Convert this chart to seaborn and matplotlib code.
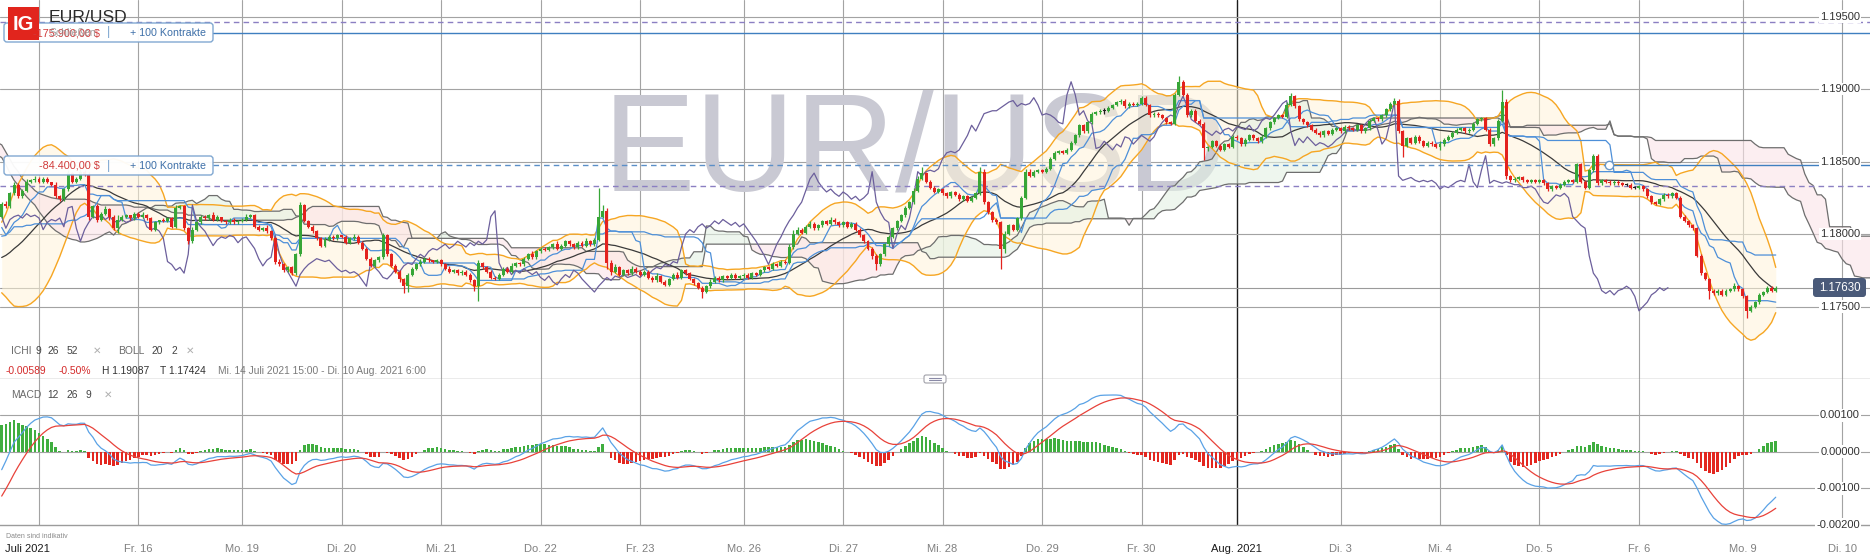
import numpy as np
import pandas as pd
import matplotlib
matplotlib.use("Agg")
import matplotlib.pyplot as plt
import matplotlib.transforms as mtransforms
from matplotlib.patches import FancyBboxPatch, Rectangle
import seaborn as sns

sns.set_theme(style="white")
plt.rcParams['font.family'] = ['Liberation Sans', 'DejaVu Sans']

# ---------------- data (prices in 1e-4 units: 1834 -> 1.1834) ----------------
first_open_pips = 1812
close_pips = [
    1821, 1819, 1828, 1834, 1826, 1830, 1836, 1837, 1838, 1836,
    1838, 1836, 1834, 1826, 1824, 1831, 1842, 1836, 1838, 1843,
    1841, 1812, 1819, 1810, 1814, 1817, 1812, 1804, 1810, 1812,
    1813, 1811, 1814, 1812, 1813, 1811, 1803, 1808, 1810, 1809,
    1811, 1805, 1818, 1819, 1804, 1795, 1803, 1808, 1812, 1811,
    1813, 1810, 1812, 1809, 1808, 1810, 1808, 1809, 1810, 1812,
    1813, 1805, 1803, 1804, 1802, 1797, 1781, 1779, 1775, 1777,
    1773, 1786, 1820, 1809, 1805, 1802, 1797, 1792, 1796, 1798,
    1797, 1799, 1798, 1794, 1797, 1798, 1794, 1790, 1783, 1778,
    1782, 1784, 1799, 1786, 1778, 1774, 1769, 1764, 1772, 1776,
    1779, 1781, 1783, 1782, 1781, 1782, 1779, 1776, 1774, 1775,
    1773, 1774, 1772, 1768, 1764, 1780, 1777, 1774, 1770, 1769,
    1772, 1776, 1774, 1778, 1780, 1779, 1783, 1786, 1784, 1788,
    1790, 1789, 1791, 1793, 1790, 1792, 1795, 1793, 1791, 1794,
    1792, 1795, 1793, 1796, 1812, 1816, 1780, 1774, 1777, 1772,
    1775, 1773, 1776, 1774, 1772, 1774, 1770, 1768, 1771, 1767,
    1765, 1769, 1772, 1770, 1775, 1773, 1769, 1766, 1763, 1760,
    1764, 1767, 1770, 1768, 1771, 1770, 1772, 1770, 1771, 1772,
    1770, 1773, 1772, 1775, 1777, 1776, 1779, 1778, 1781, 1780,
    1791, 1800, 1803, 1801, 1805, 1807, 1804, 1806, 1809, 1807,
    1810, 1808, 1806, 1808, 1805, 1807, 1803, 1799, 1795, 1790,
    1785, 1779, 1786, 1793, 1798, 1804, 1809, 1813, 1818, 1822,
    1830, 1838, 1842, 1836, 1832, 1829, 1831, 1828, 1826, 1829,
    1827, 1824, 1826, 1823, 1825, 1828, 1843, 1822, 1815, 1810,
    1808, 1790, 1800, 1806, 1803, 1811, 1825, 1843, 1840, 1843,
    1844, 1843, 1845, 1852, 1856, 1857, 1856, 1858, 1863, 1868,
    1875, 1871, 1877, 1883, 1884, 1885, 1885, 1887, 1889, 1891,
    1892, 1888, 1890, 1889, 1890, 1894, 1889, 1882, 1883, 1882,
    1880, 1877, 1876, 1896, 1905, 1896, 1882, 1885, 1878, 1876,
    1859, 1860, 1864, 1861, 1858, 1862, 1860, 1867, 1866, 1862,
    1865, 1868, 1866, 1864, 1867, 1873, 1877, 1880, 1882, 1881,
    1889, 1895, 1888, 1879, 1877, 1875, 1872, 1870, 1868, 1871,
    1869, 1872, 1873, 1871, 1874, 1873, 1872, 1875, 1871, 1873,
    1878, 1880, 1879, 1882, 1886, 1890, 1892, 1871, 1861, 1866,
    1863, 1867, 1864, 1861, 1863, 1862, 1860, 1862, 1865, 1867,
    1870, 1872, 1873, 1871, 1872, 1876, 1879, 1880, 1872, 1862,
    1866, 1878, 1891, 1840, 1837, 1838, 1839, 1837, 1836, 1837,
    1836, 1837, 1835, 1831, 1833, 1832, 1834, 1836, 1837, 1836,
    1848, 1836, 1832, 1844, 1854, 1835, 1837, 1836, 1835, 1836,
    1835, 1834, 1834, 1832, 1832, 1833, 1831, 1826, 1822, 1821,
    1824, 1827, 1826, 1828, 1825, 1812, 1809, 1806, 1804, 1785,
    1773, 1769, 1761, 1759, 1761, 1758, 1761, 1762, 1764, 1762,
    1757, 1747, 1750, 1753, 1758, 1760, 1763, 1761, 1763,
]
upper_wick_pips = [
    1, 2, 1, 2, 1, 1, 2, 1, 2, 1,
    1, 1, 0, 2, 1, 1, 2, 1, 1, 2,
    1, 2, 1, 2, 1, 2, 1, 1, 3, 1,
    1, 0, 1, 1, 2, 1, 1, 1, 0, 1,
    1, 1, 2, 1, 1, 1, 2, 1, 1, 1,
    1, 2, 1, 0, 1, 1, 1, 1, 1, 2,
    1, 1, 1, 1, 2, 1, 1, 2, 1, 1,
    1, 1, 2, 1, 1, 1, 1, 1, 2, 1,
    1, 1, 0, 1, 1, 2, 1, 1, 1, 1,
    1, 1, 2, 1, 1, 1, 1, 1, 1, 1,
    1, 2, 1, 1, 0, 1, 1, 1, 2, 1,
    1, 1, 1, 1, 1, 2, 1, 1, 1, 1,
    1, 1, 1, 2, 1, 1, 1, 1, 2, 1,
    1, 1, 1, 1, 2, 1, 1, 1, 1, 1,
    1, 2, 1, 1, 20, 4, 2, 2, 2, 1,
    1, 1, 2, 1, 1, 1, 1, 1, 2, 1,
    1, 1, 1, 2, 1, 1, 1, 1, 1, 1,
    1, 2, 1, 1, 1, 1, 1, 1, 1, 1,
    1, 1, 1, 1, 1, 1, 2, 1, 1, 1,
    2, 3, 2, 1, 1, 2, 1, 1, 1, 1,
    2, 1, 1, 1, 1, 1, 1, 1, 1, 1,
    1, 1, 1, 1, 1, 1, 1, 1, 1, 1,
    2, 2, 4, 1, 1, 1, 1, 1, 1, 1,
    1, 1, 1, 1, 1, 1, 3, 2, 1, 1,
    1, 1, 2, 1, 1, 1, 1, 2, 2, 1,
    1, 1, 1, 1, 1, 1, 1, 1, 1, 1,
    1, 1, 1, 1, 1, 1, 2, 1, 1, 1,
    1, 1, 1, 1, 1, 1, 1, 1, 1, 1,
    1, 1, 1, 1, 4, 1, 1, 1, 1, 1,
    1, 1, 1, 1, 1, 1, 1, 1, 1, 1,
    1, 1, 1, 1, 1, 1, 1, 1, 1, 1,
    2, 2, 1, 1, 1, 1, 1, 1, 1, 1,
    1, 1, 1, 1, 1, 1, 1, 1, 1, 1,
    1, 1, 1, 1, 1, 1, 2, 1, 1, 1,
    1, 1, 1, 1, 1, 1, 1, 2, 1, 1,
    1, 1, 1, 1, 1, 1, 1, 1, 1, 1,
    1, 1, 8, 2, 1, 1, 1, 1, 1, 1,
    1, 1, 1, 1, 1, 1, 1, 1, 1, 1,
    1, 1, 1, 1, 1, 1, 1, 1, 1, 1,
    1, 1, 1, 1, 1, 1, 1, 1, 1, 1,
    1, 1, 1, 1, 1, 1, 1, 1, 1, 1,
    1, 1, 1, 1, 1, 1, 1, 1, 2, 1,
    1, 1, 1, 1, 1, 1, 1, 1, 1,
]
lower_wick_pips = [
    1, 1, 1, 1, 1, 1, 1, 1, 1, 1,
    1, 1, 1, 1, 1, 1, 1, 1, 1, 1,
    1, 2, 1, 2, 1, 1, 2, 1, 3, 1,
    1, 1, 1, 1, 1, 1, 1, 1, 1, 1,
    1, 1, 1, 1, 1, 2, 1, 1, 1, 1,
    1, 1, 1, 1, 1, 1, 1, 1, 1, 1,
    1, 1, 1, 1, 1, 1, 2, 1, 1, 1,
    1, 1, 1, 1, 1, 1, 1, 1, 1, 1,
    1, 1, 1, 1, 1, 1, 1, 1, 1, 1,
    1, 1, 1, 1, 1, 1, 2, 5, 4, 1,
    1, 1, 1, 1, 1, 1, 1, 1, 1, 1,
    1, 1, 1, 1, 3, 10, 1, 1, 1, 1,
    1, 1, 1, 1, 1, 1, 1, 1, 1, 1,
    1, 1, 1, 1, 1, 1, 1, 1, 1, 1,
    1, 1, 1, 1, 1, 1, 4, 2, 1, 1,
    1, 1, 1, 1, 1, 1, 1, 1, 1, 1,
    1, 1, 1, 1, 1, 1, 1, 1, 1, 4,
    1, 1, 1, 1, 1, 1, 1, 1, 1, 1,
    1, 1, 1, 1, 1, 1, 1, 1, 1, 1,
    1, 1, 1, 1, 1, 1, 1, 1, 1, 1,
    1, 1, 1, 1, 1, 1, 1, 1, 1, 1,
    2, 4, 1, 1, 1, 1, 1, 1, 1, 1,
    1, 1, 1, 1, 1, 1, 1, 1, 1, 1,
    1, 1, 1, 1, 1, 1, 1, 1, 1, 2,
    1, 14, 3, 1, 1, 1, 1, 1, 1, 1,
    1, 1, 1, 1, 1, 1, 1, 1, 1, 1,
    1, 1, 1, 1, 1, 1, 2, 1, 1, 1,
    1, 1, 1, 1, 1, 1, 1, 1, 1, 1,
    1, 1, 1, 1, 1, 1, 1, 1, 1, 1,
    8, 2, 1, 1, 1, 1, 1, 1, 1, 1,
    1, 1, 1, 1, 1, 1, 1, 1, 1, 1,
    1, 1, 1, 1, 1, 1, 1, 1, 1, 1,
    1, 1, 1, 1, 1, 1, 1, 1, 1, 1,
    1, 1, 1, 1, 1, 1, 1, 1, 8, 1,
    1, 1, 1, 1, 1, 1, 1, 2, 1, 1,
    1, 1, 1, 1, 1, 1, 1, 1, 1, 1,
    1, 1, 1, 2, 1, 1, 1, 1, 1, 1,
    1, 1, 1, 1, 1, 1, 1, 1, 1, 1,
    1, 1, 1, 1, 1, 1, 1, 1, 1, 1,
    1, 1, 1, 1, 1, 1, 1, 1, 1, 1,
    1, 1, 1, 1, 1, 1, 1, 1, 1, 1,
    1, 1, 6, 1, 1, 1, 1, 1, 1, 1,
    1, 5, 1, 1, 1, 1, 1, 1, 1,
]
# hourly closes before the visible window (needed by the indicators)
history_pips = [
    1870, 1872, 1875, 1873, 1876, 1878, 1875, 1874, 1876, 1873, 1872, 1874, 1871, 1869, 1868,
    1867, 1866, 1868, 1870, 1869, 1872, 1874, 1873, 1870, 1868, 1865, 1866, 1863, 1860, 1862,
    1864, 1866, 1865, 1862, 1860, 1861, 1863, 1862, 1860,
    1858, 1857, 1859, 1856, 1854, 1853, 1855, 1852, 1850, 1849, 1852, 1850, 1848, 1845, 1835,
    1825, 1815, 1808, 1800, 1795, 1790, 1786, 1782, 1780,
    1778, 1776, 1775, 1774, 1776, 1775, 1774, 1776, 1775, 1778, 1780, 1784, 1790, 1798, 1808,
]

day_ticks = [9, 33, 58, 82, 106, 130, 154, 179, 203, 227, 251, 275, 298, 323, 347, 371, 395, 420, 444]
day_labels = ["Juli 2021", "Fr. 16", "Mo. 19", "Di. 20", "Mi. 21", "Do. 22", "Fr. 23", "Mo. 26",
              "Di. 27", "Mi. 28", "Do. 29", "Fr. 30", "Aug. 2021", "Di. 3", "Mi. 4", "Do. 5",
              "Fr. 6", "Mo. 9", "Di. 10"]
price_ticks = [1.175, 1.180, 1.185, 1.190, 1.195]
macd_ticks = [0.001, 0.0, -0.001, -0.002]
last_price = 1.17630
order_upper_price = 1.19388
order_upper_stop = 1.19460
order_lower_price = 1.18476
order_lower_stop = 1.18334

# ---------------- derived series ----------------
n = len(close_pips)
c = 1 + np.array(close_pips, float) / 1e4
o = np.r_[1 + first_open_pips / 1e4, c[:-1]]
uw = np.array((upper_wick_pips + [1] * n)[:n], float) / 1e4
lw = np.array((lower_wick_pips + [1] * n)[:n], float) / 1e4
h = np.maximum(o, c) + uw
l = np.minimum(o, c) - lw
hist_c = 1 + np.array(history_pips, float) / 1e4
Hn = len(hist_c)

full_c = np.r_[hist_c, c]
full_h = np.r_[hist_c, h]
full_l = np.r_[hist_c, l]
sc, sh, sl = pd.Series(full_c), pd.Series(full_h), pd.Series(full_l)

def mid(p):
    return ((sh.rolling(p, min_periods=1).max() + sl.rolling(p, min_periods=1).min()) / 2).to_numpy()

tenkan, kijun, senkou_b = mid(9), mid(26), mid(52)
senkou_a = (tenkan + kijun) / 2
jx = np.arange(len(full_c)) - Hn
win = jx >= 0
span_x = jx + 26
vis = span_x >= -2
sma = sc.rolling(20, min_periods=1).mean().to_numpy()
sd = sc.rolling(20, min_periods=1).std(ddof=0).to_numpy()
bb_up, bb_lo = sma + 2 * sd, sma - 2 * sd
ema12 = sc.ewm(span=12, adjust=False).mean()
ema26 = sc.ewm(span=26, adjust=False).mean()
macd = ema12 - ema26
signal = macd.ewm(span=9, adjust=False).mean()
macd_h = (macd - signal).to_numpy()
macd = macd.to_numpy()
signal = signal.to_numpy()
x = np.arange(n)

# ---------------- figure layout ----------------
W, HP = 1870, 560
fig = plt.figure(figsize=(W / 100, HP / 100), dpi=100)
fig.patch.set_facecolor("white")

def frame(y0, y1):
    return [0, 1 - y1 / HP, 1, (y1 - y0) / HP]

ax_p = fig.add_axes(frame(0, 379))
ax_m = fig.add_axes(frame(379, 525))
ax_o = fig.add_axes([0, 0, 1, 1], zorder=10)
ax_o.set_xlim(0, W)
ax_o.set_ylim(HP, 0)
ax_o.axis("off")
ax_o.patch.set_visible(False)

XL = (-0.41, 450.74)
ax_p.set_xlim(*XL)
ax_m.set_xlim(*XL)
ax_p.set_ylim(1.17, 1.196138)
ax_m.set_ylim(-0.002008, 0.001992)

GRID = "#a3a3a3"
for ax in (ax_p, ax_m):
    for s in ("top", "left", "right"):
        ax.spines[s].set_visible(False)
    ax.spines["bottom"].set_color("#9c9c9c")
    ax.spines["bottom"].set_linewidth(1.0)
    ax.set_yticks([])
    ax.set_facecolor("white")
    for t, lab in zip(day_ticks, day_labels):
        dark = lab.startswith("Aug")
        ax.axvline(t, color="#1c1c1c" if dark else GRID, lw=1.0 if dark else 0.8, zorder=0.6)
ax_p.set_xticks([])

for p in price_ticks:
    ax_p.axhline(p, color=GRID, lw=0.8, zorder=0.6)
ax_p.axhline(last_price, color="#9a9a9a", lw=0.8, zorder=0.6)
for v in macd_ticks[:-1]:
    ax_m.axhline(v, color=GRID, lw=0.8, zorder=0.6)

# watermark
ax_p.text(915, 190, "EUR/USD", transform=ax_o.transData, ha="center", va="baseline",
          fontsize=100, color="#c9c9d3", zorder=0.7, family=["Liberation Sans", "DejaVu Sans"])

# Bollinger fill & Ichimoku cloud
bx = jx[win]
ax_p.fill_between(bx, bb_up[win], bb_lo[win], color="#fff4d9", alpha=0.55, lw=0, zorder=1)
sx_, sa, sb = span_x[vis], senkou_a[vis], senkou_b[vis]
ax_p.fill_between(sx_, sa, sb, where=sa >= sb, interpolate=True, color="#e3f1e3", alpha=0.6, lw=0, zorder=1.1)
ax_p.fill_between(sx_, sa, sb, where=sa < sb, interpolate=True, color="#fae3e8", alpha=0.6, lw=0, zorder=1.1)

def sline(ax, xs, ys, color, lw=0.9, z=3):
    sns.lineplot(x=xs, y=ys, ax=ax, color=color, linewidth=lw, legend=False,
                 estimator=None, sort=False, zorder=z)

sline(ax_p, sx_, sa, "#6e6e6e", 0.9, 2.5)
sline(ax_p, sx_, sb, "#6e6e6e", 0.9, 2.5)
sline(ax_p, bx, bb_up[win], "#f6a623", 1.0, 3)
sline(ax_p, bx, bb_lo[win], "#f6a623", 1.0, 3)
sline(ax_p, bx, sma[win], "#3a3a3a", 0.9, 3)
sline(ax_p, bx, tenkan[win], "#4d8fd8", 0.9, 3)
sline(ax_p, bx, kijun[win], "#4d8fd8", 0.9, 3)
sline(ax_p, x - 26, c, "#6c5f9c", 0.9, 3)

# order lines
ax_p.axhline(order_upper_price, xmin=213 / W, xmax=1, color="#3f7fc0", lw=1.0, zorder=4)
ax_p.axhline(order_upper_stop, color="#8b7fc2", lw=1.0, ls=(0, (4, 3)), zorder=4)
ax_p.axhline(order_lower_price, xmin=213 / W, xmax=1609 / W, color="#5b8fc8", lw=1.0, ls=(0, (4, 3)), zorder=4)
ax_p.axhline(order_lower_price, xmin=1609 / W, xmax=1, color="#3f7fc0", lw=1.0, zorder=4)
ax_p.axhline(order_lower_stop, color="#8b7fc2", lw=1.0, ls=(0, (4, 3)), zorder=4)

# candles
GREEN, RED = "#37a637", "#e3221e"
cols = np.where(c > o, GREEN, np.where(c < o, RED, "#1e1e1e"))
ax_p.vlines(x, l, h, colors=cols, lw=0.9, zorder=5)
body_lo = np.minimum(o, c)
body_h = np.maximum(np.abs(c - o), 0.00005)
ax_p.bar(x, body_h, bottom=body_lo, width=0.72, color=cols, linewidth=0, zorder=6)

# MACD
mh = macd_h[win]
ax_m.bar(x, mh, width=0.62, color=np.where(mh >= 0, "#3fae3f", "#e3261f"), linewidth=0, zorder=2)
sline(ax_m, x, macd[win], "#5aa2e6", 0.9, 3)
sline(ax_m, x, signal[win], "#e8423a", 0.9, 3)

ax_m.set_xticks(day_ticks)
ax_m.set_xticklabels(day_labels)
ax_m.tick_params(axis="x", length=10, width=0.8, color="#9c9c9c", labelsize=8,
                 labelcolor="#808080", pad=4)
for lab in ax_m.get_xticklabels():
    if "2021" in lab.get_text():
        lab.set_color("#1a1a1a")
labs = ax_m.get_xticklabels()
labs[0].set_transform(labs[0].get_transform() + mtransforms.ScaledTranslation(-12 / 100, 0, fig.dpi_scale_trans))
ticks = ax_m.xaxis.get_major_ticks()
ticks[day_labels.index("Aug. 2021")].tick1line.set_color("#1c1c1c")
for ax in (ax_p, ax_m):
    ax.set_xlabel("")
    ax.set_ylabel("")

# right-hand value labels
for p in price_ticks:
    ax_p.text(1860 / W, p, f"{p:.5f}", transform=ax_p.get_yaxis_transform(), ha="right", va="center",
              fontsize=8, color="#333333", zorder=8,
              bbox=dict(boxstyle="square,pad=0.12", fc="white", ec="none"))
for v in macd_ticks:
    ax_m.text(1860 / W, v, f"{v:.5f}", transform=ax_m.get_yaxis_transform(), ha="right", va="center",
              fontsize=8, color="#333333", zorder=8, clip_on=False,
              bbox=dict(boxstyle="square,pad=0.12", fc="white", ec="none"))

# ---------------- overlay annotations (pixel coordinates) ----------------
A = ax_o
A.add_patch(FancyBboxPatch((1813, 278), 53, 19, boxstyle="round,pad=0,rounding_size=3",
                           fc="#4a5a79", ec="none"))
A.text(1839.5, 288, f"{last_price:.5f}", ha="center", va="center", color="white", fontsize=8.3)

for (y0, amount) in ((23, "-175.900,00 $"), (156, "-84.400,00 $")):
    A.add_patch(FancyBboxPatch((4, y0), 209, 19, boxstyle="round,pad=0,rounding_size=3",
                               fc="white", ec="#7aa3cf", lw=1.0, alpha=0.95))
    A.text(100, y0 + 10, amount, ha="right", va="center", color="#d03a3a", fontsize=7.8)
    A.text(108, y0 + 9.5, "|", ha="center", va="center", color="#7aa3cf", fontsize=9)
    A.text(130, y0 + 10, "+ 100 Kontrakte", ha="left", va="center", color="#3d6fa8", fontsize=7.7)
A.text(50, 33, "Schließen", ha="left", va="center", color="#8a8a8a", fontsize=7.5, alpha=0.8)
A.plot([1609], [165], "o", ms=6, mfc="white", mec="#6a98c8", mew=1.0)

A.add_patch(Rectangle((8, 7), 31, 33, fc="#e1251d", ec="none"))
A.text(23.5, 24, "IG", ha="center", va="center", color="white", fontsize=14.5, fontweight="bold")
A.text(49, 17, "EUR/USD", ha="left", va="center", color="#2a2a2a", fontsize=12.6)

def row(items, y):
    for xx, s, col in items:
        A.text(xx, y, s, ha="left", va="center", color=col, fontsize=7.4)

row([(11, "ICHI", "#6a6a6a"), (35.6, "9", "#444444"), (48, "26", "#444444"), (67, "52", "#444444"),
     (92.5, "✕", "#b0b0b0"), (118.5, "BOLL", "#6a6a6a"), (152, "20", "#444444"), (171, "2", "#444444"),
     (185.5, "✕", "#b0b0b0")], 351)
row([(6, "-0.00589", "#d42a2a"), (59, "-0.50%", "#d42a2a"), (102, "H 1.19087", "#333333"),
     (160, "T 1.17424", "#333333"), (218, "Mi. 14 Juli 2021 15:00 - Di. 10 Aug. 2021 6:00", "#7a7a7a")], 371)
row([(10.7, "MACD", "#6a6a6a"), (47.4, "12", "#444444"), (66.4, "26", "#444444"), (85, "9", "#444444"),
     (103.6, "✕", "#b0b0b0")], 395)

A.add_patch(FancyBboxPatch((924, 375), 22, 8, boxstyle="round,pad=0,rounding_size=2",
                           fc="white", ec="#a0a0a8", lw=0.8))
A.plot([929, 941], [377.8, 377.8], color="#8a8aa6", lw=0.8)
A.plot([929, 941], [380.3, 380.3], color="#8a8aa6", lw=0.8)
A.text(6, 536, "Daten sind indikativ", ha="left", va="center", color="#8a8a8a", fontsize=5)

fig.savefig("out.png", dpi=100, facecolor="white")
